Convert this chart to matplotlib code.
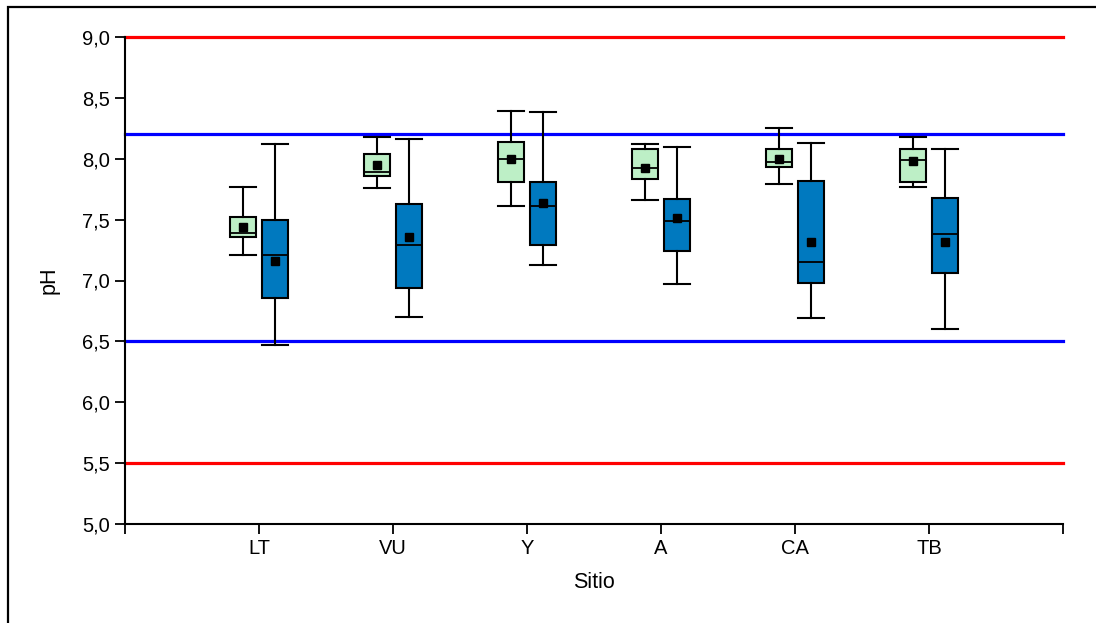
import matplotlib

matplotlib.use("Agg")
import matplotlib.pyplot as plt
from matplotlib.patches import Rectangle

plt.rcParams["font.family"] = ["Liberation Sans", "DejaVu Sans"]

sites = ["LT", "VU", "Y", "A", "CA", "TB"]

# green series (first box of each pair)
g_whislo = [7.21, 7.76, 7.61, 7.66, 7.79, 7.77]
g_q1 = [7.36, 7.86, 7.81, 7.83, 7.93, 7.81]
g_med = [7.39, 7.89, 8.00, 7.92, 7.97, 7.99]
g_q3 = [7.52, 8.04, 8.14, 8.08, 8.08, 8.08]
g_whishi = [7.77, 8.18, 8.39, 8.12, 8.25, 8.18]
g_mean = [7.44, 7.95, 8.00, 7.92, 8.00, 7.98]

# blue series (second box of each pair)
b_whislo = [6.47, 6.70, 7.13, 6.97, 6.69, 6.60]
b_q1 = [6.86, 6.94, 7.29, 7.24, 6.98, 7.06]
b_med = [7.21, 7.29, 7.61, 7.49, 7.15, 7.38]
b_q3 = [7.50, 7.63, 7.81, 7.67, 7.82, 7.68]
b_whishi = [8.12, 8.16, 8.38, 8.10, 8.13, 8.08]
b_mean = [7.16, 7.36, 7.64, 7.51, 7.32, 7.32]

limits_red = [9.0, 5.5]
limits_blue = [8.2, 6.5]


def _stats(lo, q1, med, q3, hi, mean):
    return [dict(whislo=a, q1=b, med=c, q3=d, whishi=e, mean=f, fliers=[])
            for a, b, c, d, e, f in zip(lo, q1, med, q3, hi, mean)]


fig = plt.figure(figsize=(10.96, 6.23), dpi=100)
ax = fig.add_axes([125 / 1096, 1 - 524 / 623, (1063 - 125) / 1096, (524 - 37) / 623])

for y in limits_red:
    ax.axhline(y, color="#ff0000", lw=2.3, zorder=1, clip_on=False)
for y in limits_blue:
    ax.axhline(y, color="#0000ff", lw=2.3, zorder=1, clip_on=False)

pos = list(range(1, len(sites) + 1))
series = [
    (_stats(g_whislo, g_q1, g_med, g_q3, g_whishi, g_mean), -0.12, "#bdefc6"),
    (_stats(b_whislo, b_q1, b_med, b_q3, b_whishi, b_mean), 0.12, "#0079bf"),
]
for stats, off, color in series:
    ax.bxp(stats, positions=[p + off for p in pos], widths=0.2, patch_artist=True,
           showmeans=True, showfliers=False, capwidths=0.2,
           boxprops=dict(facecolor=color, edgecolor="black", lw=1.5),
           medianprops=dict(color="black", lw=1.3),
           whiskerprops=dict(color="black", lw=1.5),
           capprops=dict(color="black", lw=1.5),
           meanprops=dict(marker="s", markerfacecolor="black", markeredgecolor="black",
                          markersize=6),
           manage_ticks=False)

ax.set_xlim(0, 7)
ax.set_ylim(5, 9)
ax.set_xticks([0] + pos + [7])
ax.set_xticklabels([""] + sites + [""])
ax.set_yticks([5.0, 5.5, 6.0, 6.5, 7.0, 7.5, 8.0, 8.5, 9.0])
ax.set_yticklabels(["5,0", "5,5", "6,0", "6,5", "7,0", "7,5", "8,0", "8,5", "9,0"])
ax.tick_params(direction="out", length=7, width=1.3, labelsize=14.5, pad=4)
ax.spines["top"].set_visible(False)
ax.spines["right"].set_visible(False)
ax.spines["left"].set_linewidth(1.5)
ax.spines["bottom"].set_linewidth(1.5)
ax.set_xlabel("Sitio", fontsize=15.5, labelpad=10)
ax.set_ylabel("pH", fontsize=15.5, labelpad=16)

# outer frame (only left and top edges fall inside the picture)
fig.patches.append(Rectangle((8 / 1096, -0.2), 2, 1.2 - 7 / 623, transform=fig.transFigure,
                             fill=False, lw=1.6, edgecolor="black"))

fig.savefig("out.png", dpi=100)
